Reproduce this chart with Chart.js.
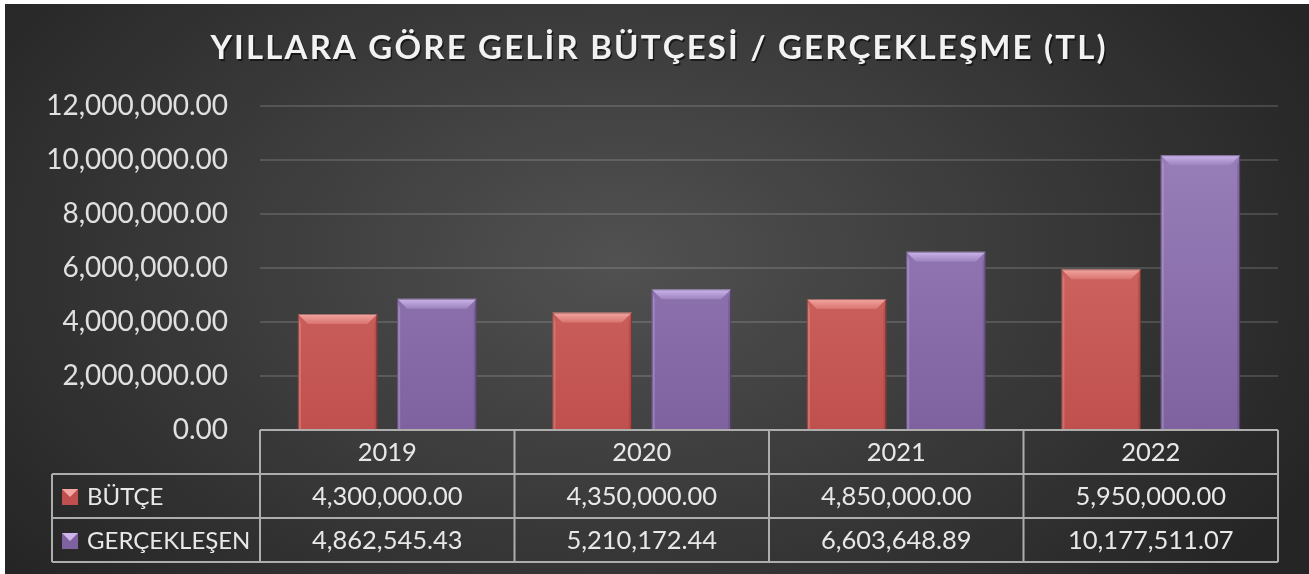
<!DOCTYPE html>
<html>
<head>
<meta charset="utf-8">
<script src="https://cdn.jsdelivr.net/npm/chart.js@4/dist/chart.umd.min.js"></script>
<style>
    html, body { margin: 0; padding: 0; background: #ffffff; }
    #wrap { position: absolute; left: 5px; top: 4px; width: 1304px; height: 570px; }
</style>
</head>
<body>
<div id="wrap"><canvas id="gelir-chart" width="1304" height="570"></canvas></div>
<script>
const chartTitle = 'YILLARA GÖRE GELİR BÜTÇESİ / GERÇEKLEŞME (TL)';
const years = ['2019', '2020', '2021', '2022'];
const seriesNames = ['BÜTÇE', 'GERÇEKLEŞEN'];
const butce = [4300000, 4350000, 4850000, 5950000];
const gerceklesen = [4862545.43, 5210172.44, 6603648.89, 10177511.07];
const yMax = 12000000;
const yStep = 2000000;

const fmt = new Intl.NumberFormat('en-US', { minimumFractionDigits: 2, maximumFractionDigits: 2 });

// bar colours: [top, bottom, bevel light, bevel dark]
const palette = [
    ['#d8746f', '#c0504d', '#f4a7a2', '#9c3c3a'],
    ['#9c83bd', '#7e62a0', '#cdb5ec', '#5f4a7c']
];

function barFill(ctx, i) {
    const chart = ctx.chart;
    const area = chart.chartArea;
    if (!area) return palette[i][1];
    const g = chart.ctx.createLinearGradient(0, area.top, 0, area.bottom);
    g.addColorStop(0, palette[i][0]);
    g.addColorStop(1, palette[i][1]);
    return g;
}

const background = {
    id: 'background',
    beforeDraw(chart) {
        const c = chart.ctx;
        const w = chart.width, h = chart.height;
        c.save();
        c.translate(w * 0.47, h * 0.45);
        c.scale(1, 0.62);
        const g = c.createRadialGradient(0, 0, 0, 0, 0, w * 0.6);
        g.addColorStop(0, '#515151');
        g.addColorStop(1, '#252525');
        c.fillStyle = g;
        c.fillRect(-w, -h * 2, w * 2, h * 4);
        c.restore();
    }
};

const bevel = {
    id: 'bevel',
    afterDatasetsDraw(chart) {
        const c = chart.ctx;
        chart.data.datasets.forEach((ds, i) => {
            chart.getDatasetMeta(i).data.forEach(bar => {
                const l = bar.x - bar.width / 2, r = bar.x + bar.width / 2;
                const t = bar.y, b = bar.base;
                const bt = 10, bs = 3;
                c.save();
                // top bevel
                const g = c.createLinearGradient(0, t, 0, t + bt);
                g.addColorStop(0, palette[i][2]);
                g.addColorStop(1, palette[i][0]);
                c.fillStyle = g;
                c.beginPath();
                c.moveTo(l, t); c.lineTo(r, t); c.lineTo(r - bt, t + bt); c.lineTo(l + bt, t + bt);
                c.closePath(); c.fill();
                // sides
                c.globalAlpha = 0.35;
                c.fillStyle = palette[i][2];
                c.beginPath();
                c.moveTo(l, t); c.lineTo(l + bs, t + bt); c.lineTo(l + bs, b); c.lineTo(l, b);
                c.closePath(); c.fill();
                c.fillStyle = palette[i][3];
                c.beginPath();
                c.moveTo(r, t); c.lineTo(r - bs, t + bt); c.lineTo(r - bs, b); c.lineTo(r, b);
                c.closePath(); c.fill();
                c.globalAlpha = 1;
                c.strokeStyle = 'rgba(0,0,0,0.35)';
                c.lineWidth = 1;
                c.strokeRect(l + 0.5, t + 0.5, r - l - 1, b - t);
                c.restore();
            });
        });
    }
};

const titleAndTable = {
    id: 'titleAndTable',
    afterDraw(chart) {
        const c = chart.ctx;
        const area = chart.chartArea;
        const x = chart.scales.x;

        // title, letter spaced
        c.save();
        c.font = 'bold 33px Lato';
        c.textBaseline = 'alphabetic';
        const chars = Array.from(chartTitle);
        const widths = chars.map(ch => c.measureText(ch).width);
        const raw = widths.reduce((a, b) => a + b, 0);
        const target = 895;
        const sp = (target - raw) / (chars.length - 1);
        let tx = chart.width / 2 - target / 2 + 1;
        chars.forEach((ch, k) => {
            c.fillStyle = 'rgba(0,0,0,0.55)';
            c.fillText(ch, tx + 1.5, 56.5);
            c.fillStyle = '#f2f2f2';
            c.fillText(ch, tx, 55);
            tx += widths[k] + sp;
        });
        c.restore();

        // data table
        const rowH = 44;
        const top = area.bottom;
        const labelLeft = 47;
        const colW = (area.right - area.left) / years.length;
        c.save();
        c.strokeStyle = '#adadad';
        c.lineWidth = 2;
        c.beginPath();
        for (let r = 0; r <= 3; r++) {
            const y = top + r * rowH;
            c.moveTo(r === 0 ? area.left : labelLeft, y);
            c.lineTo(area.right, y);
        }
        c.moveTo(labelLeft, top + rowH); c.lineTo(labelLeft, top + 3 * rowH);
        for (let k = 0; k <= years.length; k++) {
            const vx = area.left + k * colW;
            c.moveTo(vx, top); c.lineTo(vx, top + 3 * rowH);
        }
        c.stroke();

        c.font = '25.5px Lato';
        c.fillStyle = '#e8e8e8';
        c.textAlign = 'center';
        c.textBaseline = 'middle';
        const rows = [butce, gerceklesen];
        years.forEach((yr, k) => {
            const cx = x.getPixelForValue(k);
            c.fillText(yr, cx, top + rowH / 2 + 1);
            rows.forEach((vals, r) => c.fillText(fmt.format(vals[k]), cx, top + rowH * (r + 1.5) + 1));
        });

        c.textAlign = 'left';
        c.font = '24px Lato';
        seriesNames.forEach((name, r) => {
            const cy = top + rowH * (r + 1.5);
            const m = 16, mx = 57, my = cy - m / 2 + 1;
            c.fillStyle = palette[r][1];
            c.fillRect(mx, my, m, m);
            c.fillStyle = palette[r][2];
            c.beginPath();
            c.moveTo(mx, my); c.lineTo(mx + m, my); c.lineTo(mx + m / 2, my + m / 2);
            c.closePath(); c.fill();
            c.fillStyle = '#e8e8e8';
            c.fillText(name, 82, cy + 1);
        });
        c.restore();
    }
};

const ctx = document.getElementById('gelir-chart').getContext('2d');
new Chart(ctx, {
    type: 'bar',
    data: {
        labels: years,
        datasets: [
            {
                label: seriesNames[0],
                data: butce,
                backgroundColor: c => barFill(c, 0),
                categoryPercentage: 0.78,
                barPercentage: 0.8
            },
            {
                label: seriesNames[1],
                data: gerceklesen,
                backgroundColor: c => barFill(c, 1),
                categoryPercentage: 0.78,
                barPercentage: 0.8
            }
        ]
    },
    options: {
        responsive: false,
        animation: false,
        layout: { padding: { top: 102, right: 31, bottom: 144, left: 0 } },
        plugins: {
            legend: { display: false },
            tooltip: { enabled: false },
            title: { display: false }
        },
        scales: {
            x: { display: false },
            y: {
                min: 0,
                max: yMax,
                afterFit(axis) { axis.width = 255; },
                border: { display: false },
                grid: { color: 'rgba(255,255,255,0.14)', lineWidth: 2, drawTicks: false },
                ticks: {
                    stepSize: yStep,
                    padding: 32,
                    color: '#e0e0e0',
                    font: { family: 'Lato', size: 28 },
                    callback: v => fmt.format(v)
                }
            }
        }
    },
    plugins: [background, bevel, titleAndTable]
});
</script>
</body>
</html>
